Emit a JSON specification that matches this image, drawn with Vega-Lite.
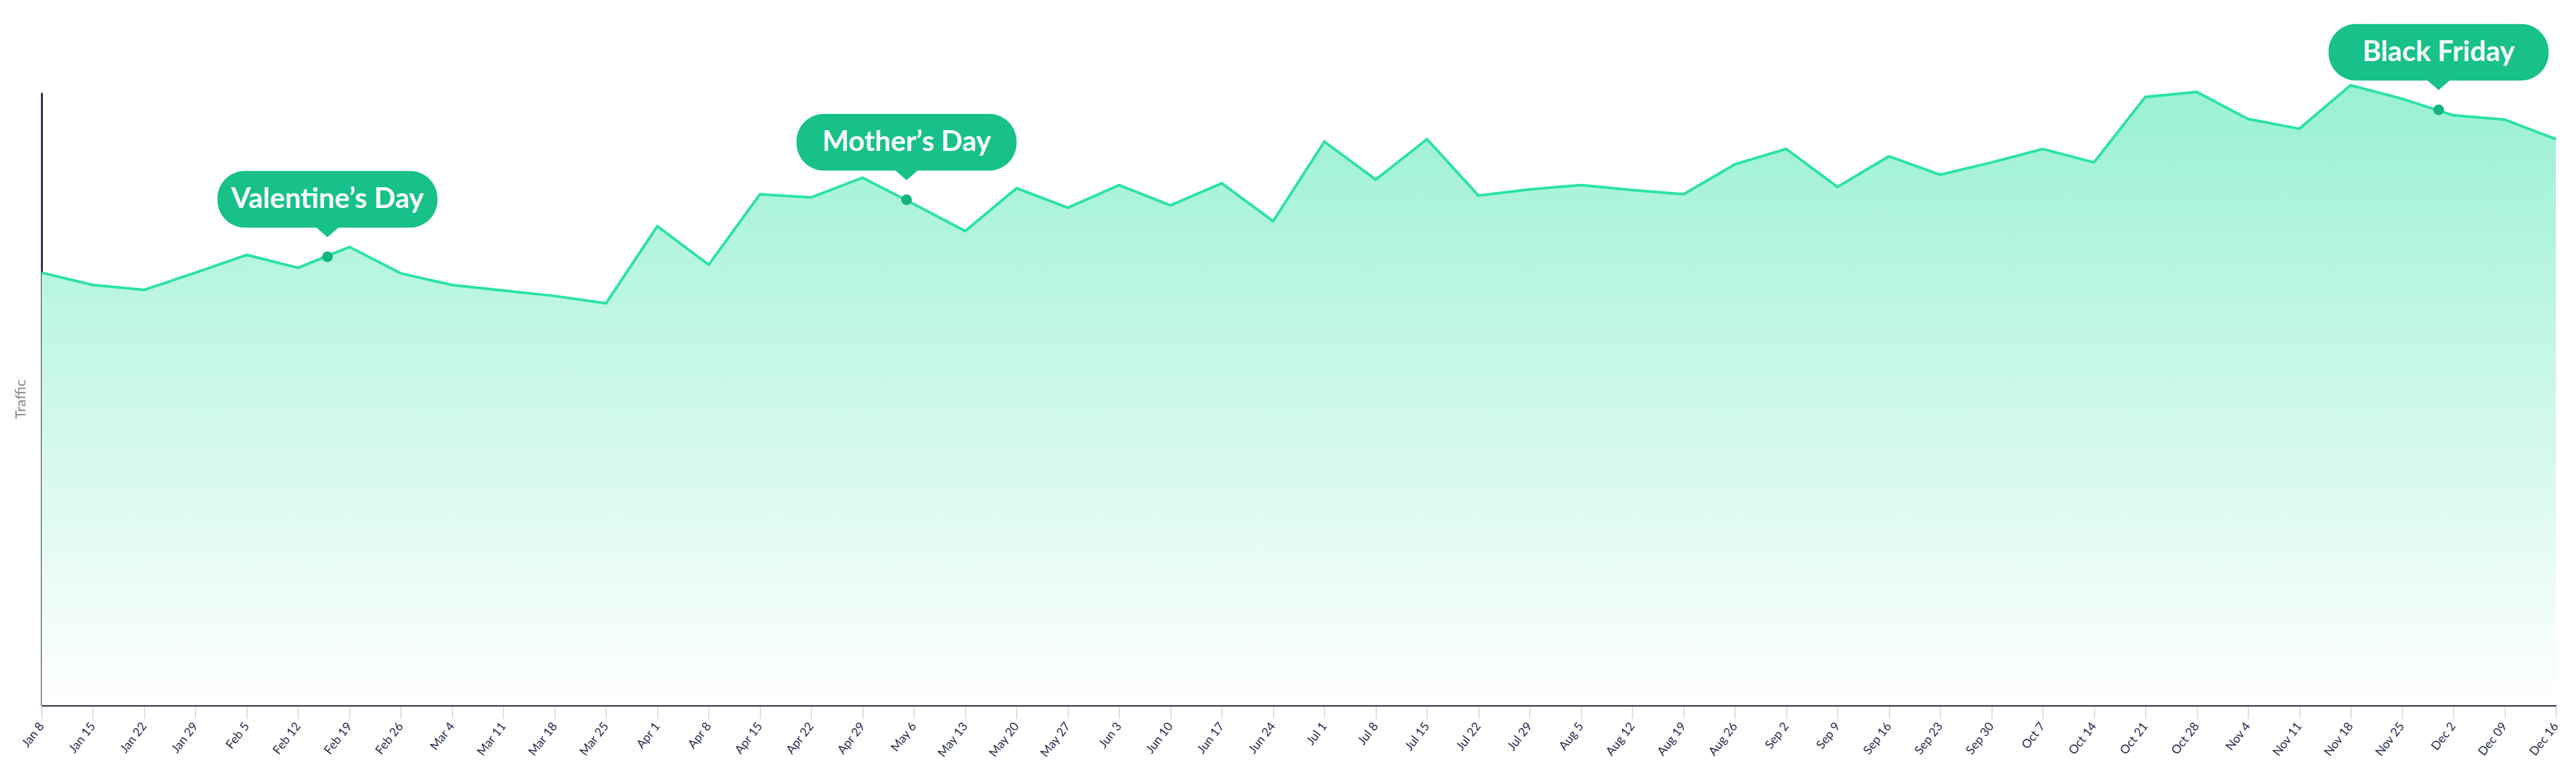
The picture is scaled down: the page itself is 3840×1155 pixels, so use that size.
{
  "$schema": "https://vega.github.io/schema/vega-lite/v6.json",
  "autosize": "none",
  "width": 3748,
  "height": 913,
  "padding": {"left": 62, "top": 138, "right": 30, "bottom": 104},
  "background": "white",
  "config": {"view": {"stroke": null}, "font": "Lato"},
  "data": {
    "values": [
      {"date": "2012-01-08", "traffic": 70.6},
      {"date": "2012-01-15", "traffic": 68.6},
      {"date": "2012-01-22", "traffic": 67.8},
      {"date": "2012-01-29", "traffic": 70.6},
      {"date": "2012-02-05", "traffic": 73.5},
      {"date": "2012-02-12", "traffic": 71.4},
      {"date": "2012-02-19", "traffic": 74.8},
      {"date": "2012-02-26", "traffic": 70.5},
      {"date": "2012-03-04", "traffic": 68.6},
      {"date": "2012-03-11", "traffic": 67.7},
      {"date": "2012-03-18", "traffic": 66.8},
      {"date": "2012-03-25", "traffic": 65.6},
      {"date": "2012-04-01", "traffic": 78.2},
      {"date": "2012-04-08", "traffic": 71.9},
      {"date": "2012-04-15", "traffic": 83.4},
      {"date": "2012-04-22", "traffic": 82.9},
      {"date": "2012-04-29", "traffic": 86.1},
      {"date": "2012-05-06", "traffic": 81.8},
      {"date": "2012-05-13", "traffic": 77.4},
      {"date": "2012-05-20", "traffic": 84.4},
      {"date": "2012-05-27", "traffic": 81.2},
      {"date": "2012-06-03", "traffic": 84.9},
      {"date": "2012-06-10", "traffic": 81.6},
      {"date": "2012-06-17", "traffic": 85.2},
      {"date": "2012-06-24", "traffic": 79.0},
      {"date": "2012-07-01", "traffic": 92.0},
      {"date": "2012-07-08", "traffic": 85.8},
      {"date": "2012-07-15", "traffic": 92.4},
      {"date": "2012-07-22", "traffic": 83.2},
      {"date": "2012-07-29", "traffic": 84.2},
      {"date": "2012-08-05", "traffic": 84.9},
      {"date": "2012-08-12", "traffic": 84.1},
      {"date": "2012-08-19", "traffic": 83.4},
      {"date": "2012-08-26", "traffic": 88.3},
      {"date": "2012-09-02", "traffic": 90.8},
      {"date": "2012-09-09", "traffic": 84.6},
      {"date": "2012-09-16", "traffic": 89.6},
      {"date": "2012-09-23", "traffic": 86.6},
      {"date": "2012-09-30", "traffic": 88.6},
      {"date": "2012-10-07", "traffic": 90.8},
      {"date": "2012-10-14", "traffic": 88.6},
      {"date": "2012-10-21", "traffic": 99.3},
      {"date": "2012-10-28", "traffic": 100.1},
      {"date": "2012-11-04", "traffic": 95.7},
      {"date": "2012-11-11", "traffic": 94.1},
      {"date": "2012-11-18", "traffic": 101.2},
      {"date": "2012-11-25", "traffic": 99.0},
      {"date": "2012-12-02", "traffic": 96.3},
      {"date": "2012-12-09", "traffic": 95.6},
      {"date": "2012-12-16", "traffic": 92.4}
    ]
  },
  "encoding": {
    "x": {
      "field": "date",
      "type": "temporal",
      "scale": {"type": "utc", "nice": false},
      "axis": {
        "title": null,
        "grid": false,
        "tickCount": {"interval": "week", "step": 1},
        "labelExpr": "utcFormat(datum.value, '%b %-d') == 'Dec 9' ? 'Dec 09' : utcFormat(datum.value, '%b %-d')",
        "labelAngle": -52,
        "labelFontSize": 18,
        "labelColor": "#2d2d4f",
        "labelPadding": 8,
        "labelOverlap": false,
        "labelFlush": false,
        "labelBound": false,
        "domainColor": "#2d2d4f",
        "domainWidth": 3,
        "tickColor": "#d3d3da",
        "tickSize": 20,
        "tickWidth": 1.5
      }
    },
    "y": {
      "field": "traffic",
      "type": "quantitative",
      "scale": {"domain": [0, 100], "nice": false, "zero": true},
      "axis": {
        "title": "Traffic",
        "titleFontSize": 22,
        "titleFontWeight": "normal",
        "titleColor": "#8a8a8a",
        "titlePadding": 20,
        "labels": false,
        "ticks": false,
        "grid": false,
        "domainColor": "#2d2d4f",
        "domainWidth": 3
      }
    }
  },
  "layer": [
    {
      "mark": {
        "type": "area",
        "color": {
          "gradient": "linear",
          "x1": 0, "y1": 1, "x2": 0, "y2": 0,
          "stops": [
            {"offset": 0, "color": "#ffffff"},
            {"offset": 1, "color": "#99f1d1"}
          ]
        }
      }
    },
    {
      "mark": {"type": "line", "color": "#2ae3a1", "strokeWidth": 4}
    },
    {
      "data": {
        "values": [
          {"date": "2012-02-16", "traffic": 73.2, "event": "Valentine’s Day"},
          {"date": "2012-05-05", "traffic": 82.5, "event": "Mother’s Day"},
          {"date": "2012-11-30", "traffic": 97.2, "event": "Black Friday"}
        ]
      },
      "layer": [
        {
          "mark": {
            "type": "point",
            "filled": true,
            "opacity": 1,
            "color": "#17c189",
            "size": 107584,
            "shape": "M -0.75,-0.78 L 0.75,-0.78 A 0.25,0.25 0 0 1 1,-0.53 L 1,-0.515 A 0.25,0.25 0 0 1 0.75,-0.265 L 0.1,-0.265 L 0,-0.178 L -0.1,-0.265 L -0.75,-0.265 A 0.25,0.25 0 0 1 -1,-0.515 L -1,-0.53 A 0.25,0.25 0 0 1 -0.75,-0.78 Z"
          }
        },
        {
          "mark": {"type": "point", "filled": true, "opacity": 1, "color": "#13b47f", "size": 250}
        },
        {
          "mark": {
            "type": "text",
            "color": "white",
            "fontSize": 42,
            "fontWeight": "bold",
            "dy": -86,
            "baseline": "middle",
            "align": "center"
          },
          "encoding": {"text": {"field": "event"}}
        }
      ]
    }
  ]
}
